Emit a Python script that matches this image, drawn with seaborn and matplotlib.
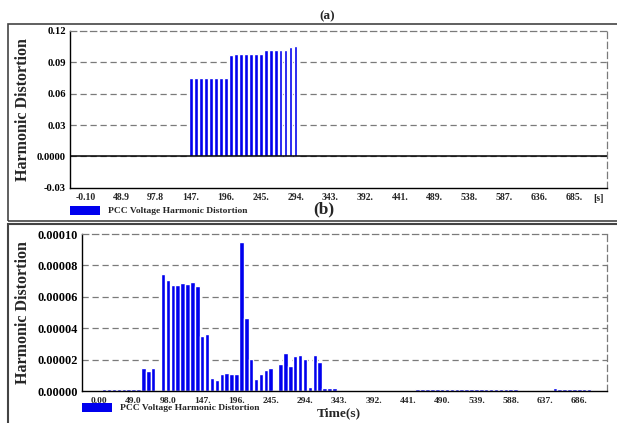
import matplotlib
matplotlib.use('Agg')
import numpy as np
import pandas as pd
import matplotlib.pyplot as plt
from matplotlib.patches import Rectangle
from matplotlib.ticker import AutoMinorLocator
import seaborn as sns

sns.set_style('white')
plt.rcParams['font.family'] = ['Liberation Serif', 'DejaVu Serif']
plt.rcParams['font.weight'] = 'bold'

# panel (a): PCC voltage harmonic distortion, step 7 s
times_a = [147, 154, 161, 168, 175, 182, 189, 196, 203, 210, 217,
           224, 231, 238, 245, 252, 259, 266, 273, 280, 287, 294]
thd_a = [0.0749, 0.0750, 0.0749, 0.0750, 0.0750, 0.0749, 0.0750, 0.0750,
         0.0975, 0.0983, 0.0980, 0.0980, 0.0980, 0.0980, 0.0981,
         0.1020, 0.1017, 0.1018, 0.1018, 0.1019,
         0.1048, 0.1054]
xt_a = [-0.10, 48.9, 97.8, 147, 196, 245, 294, 343, 392, 441, 489, 538, 587, 636, 685]
xl_a = ['-0.10', '48.9', '97.8', '147.', '196.', '245.', '294.', '343.',
        '392.', '441.', '489.', '538.', '587.', '636.', '685.']
yt_a = [-0.03, 0.0, 0.03, 0.06, 0.09, 0.12]
yl_a = ['-0.03', '0.0000', '0.03', '0.06', '0.09', '0.12']

# panel (b)
times_b = list(range(7, 344, 7)) + list(range(455, 701, 7))
thd_b = [0.11e-5, 0.12e-5, 0.12e-5, 0.12e-5, 0.12e-5, 0.12e-5, 0.12e-5, 0.10e-5,
         1.49e-5, 1.27e-5, 1.44e-5, 0.08e-5,
         7.47e-5, 7.07e-5, 6.73e-5, 6.77e-5, 6.88e-5, 6.84e-5, 6.92e-5, 6.69e-5,
         3.48e-5, 3.61e-5,
         0.85e-5, 0.68e-5, 1.06e-5, 1.15e-5, 1.10e-5, 1.10e-5,
         9.51e-5, 4.65e-5, 2.04e-5, 0.74e-5, 1.06e-5, 1.36e-5, 1.46e-5,
         0.06e-5,
         1.70e-5, 2.42e-5, 1.57e-5, 2.25e-5, 2.31e-5, 2.04e-5,
         0.25e-5, 2.29e-5, 1.87e-5, 0.19e-5, 0.19e-5, 0.17e-5, 0.05e-5,
         0.10e-5, 0.10e-5, 0.10e-5, 0.10e-5, 0.10e-5, 0.10e-5, 0.10e-5, 0.10e-5,
         0.10e-5, 0.10e-5, 0.10e-5, 0.10e-5, 0.10e-5, 0.10e-5, 0.10e-5, 0.10e-5,
         0.10e-5, 0.10e-5, 0.10e-5, 0.10e-5, 0.10e-5, 0.09e-5, 0.07e-5, 0.07e-5,
         0.07e-5, 0.07e-5, 0.07e-5, 0.07e-5, 0.22e-5, 0.10e-5, 0.10e-5, 0.10e-5,
         0.10e-5, 0.10e-5, 0.10e-5, 0.10e-5]
xt_b = [0, 49, 98, 147, 196, 245, 294, 343, 392, 441, 490, 539, 588, 637, 686]
xl_b = ['0.00', '49.0', '98.0', '147.', '196.', '245.', '294.', '343.',
        '392.', '441.', '490.', '539.', '588.', '637.', '686.']
yt_b = [0.0, 0.00002, 0.00004, 0.00006, 0.00008, 0.00010]
yl_b = ['0.00000', '0.00002', '0.00004', '0.00006', '0.00008', '0.00010']

label = 'PCC Voltage Harmonic Distortion'
blue = '#0000ee'

W, H = 617, 423
fig = plt.figure(figsize=(W / 100, H / 100), dpi=100)


def fx(px):
    return px / W


def fy(py):
    return 1 - py / H


def style_axes(ax, yt, yl, xt, xl, ylim, xlim, ytick_size, xtick_size):
    ax.set_xlim(*xlim)
    ax.set_ylim(*ylim)
    ax.set_yticks(yt)
    ax.set_yticklabels(yl, fontsize=ytick_size, fontweight='bold')
    ax.set_xticks(xt)
    ax.set_xticklabels(xl, fontsize=xtick_size, fontweight='bold')
    ax.yaxis.set_minor_locator(AutoMinorLocator(2))
    ax.tick_params(axis='y', which='major', direction='in', length=4, width=0.8, pad=3, colors='black')
    ax.tick_params(axis='y', which='minor', direction='in', length=2.5, width=0.8)
    ax.tick_params(axis='x', length=0, pad=4)
    ax.set_xlabel('')
    ax.set_ylabel('Harmonic Distortion', fontsize=11.5, fontweight='bold', labelpad=4)
    for g in yt[1:-1]:
        ax.axhline(g, color='#7a7a7a', lw=0.9, ls=(0, (5, 3)), zorder=0)
    for s in ['top', 'right']:
        ax.spines[s].set_linestyle((0, (5, 3)))
        ax.spines[s].set_color('#7a7a7a')
        ax.spines[s].set_linewidth(0.9)
    for s in ['left', 'bottom']:
        ax.spines[s].set_color('black')
        ax.spines[s].set_linewidth(1.0)


# ---- panel (a)
ax1 = fig.add_axes([fx(70), fy(187.7), fx(607 - 70), (187.7 - 31) / H])
df_a = pd.DataFrame({'t': times_a, 'thd': thd_a})
sns.barplot(data=df_a, x='t', y='thd', native_scale=True, color=blue,
            saturation=1, width=0.78, errorbar=None, ax=ax1, zorder=2)
style_axes(ax1, yt_a, yl_a, xt_a, xl_a, (-0.03, 0.12), (-22.6, 731.3), 7.6, 7.0)
ax1.axhline(0, color='black', lw=1.1, zorder=3)
ax1.text(719, -0.0365, '[s]', fontsize=7.0, fontweight='bold', ha='center', va='top')

# ---- panel (b)
ax2 = fig.add_axes([fx(81.7), fy(391), fx(607 - 81.7), (391 - 234) / H])
df_b = pd.DataFrame({'t': times_b, 'thd': thd_b})
sns.barplot(data=df_b, x='t', y='thd', native_scale=True, color=blue,
            saturation=1, width=0.92, errorbar=None, ax=ax2, zorder=2)
style_axes(ax2, yt_b, yl_b, xt_b, xl_b, (0, 0.0001), (-25.2, 725.6), 8.8, 6.8)

# frames around each panel
fig.add_artist(Rectangle((fx(8), fy(221)), 1.0, (221 - 24) / H, transform=fig.transFigure,
                         fill=False, edgecolor='#444444', lw=1.2))
fig.add_artist(Rectangle((fx(8), fy(430)), 1.0, (430 - 224) / H, transform=fig.transFigure,
                         fill=False, edgecolor='#444444', lw=1.5))

# legends
fig.add_artist(Rectangle((fx(70), fy(215)), fx(30), 9 / H, transform=fig.transFigure,
                         facecolor=blue, edgecolor='none'))
fig.text(fx(108), fy(210.5), label, fontsize=6.8, fontweight='bold', va='center')
fig.add_artist(Rectangle((fx(82), fy(412)), fx(30), 9 / H, transform=fig.transFigure,
                         facecolor=blue, edgecolor='none'))
fig.text(fx(120), fy(407.5), label, fontsize=6.8, fontweight='bold', va='center')

# titles and axis label
fig.text(fx(327), fy(16), '(a)', fontsize=9.5, fontweight='bold', ha='center', va='center')
fig.text(fx(324), fy(209), '(b)', fontsize=12.5, fontweight='bold', ha='center', va='center')
fig.text(fx(339), fy(413), 'Time(s)', fontsize=9.7, fontweight='bold', ha='center', va='center')

fig.savefig('out.png', dpi=100)
